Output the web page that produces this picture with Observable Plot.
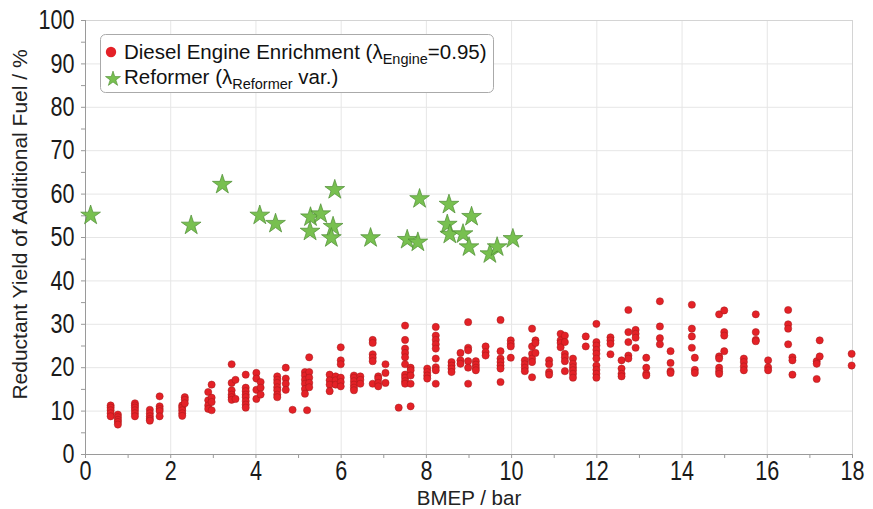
<!DOCTYPE html>
<html><head><meta charset="utf-8">
<script src="https://cdn.jsdelivr.net/npm/d3@7"></script>
<script src="https://cdn.jsdelivr.net/npm/@observablehq/plot@0.6"></script>
<style>body{margin:0;background:#fff} #chart{width:873px;height:509px}</style>
</head><body><div id="chart"></div>
<script>
// Diesel engine enrichment: BMEP columns and the yields measured at each
const dieselBmep = [0.59,0.76,1.16,1.51,1.74,2.27,2.33,2.88,2.96,3.43,3.52,3.76,4.01,4.11,4.50,4.70,4.86,5.15,5.25,5.20,5.73,5.87,5.99,6.30,6.45,6.74,6.87,7.04,7.35,7.50,7.63,8.02,8.22,8.59,8.80,8.98,9.16,9.39,9.74,9.98,10.31,10.48,10.56,10.88,11.15,11.25,11.44,11.74,11.99,12.32,12.58,12.74,12.91,13.16,13.48,13.73,14.23,14.30,14.87,14.99,15.45,15.73,16.02,16.49,16.59,17.16,17.23,17.98];
const dieselYields = [
  [11.3,10.8,10.2,9.5,8.8],[9.2,8.6,8.0,7.5,6.9],[11.8,11.3,10.8,10.2,9.5,8.8],[10.3,9.5,8.8,8.2,7.8],
  [13.4,11.1,10.5,10.0,8.8],[11.3,10.8,10.2,9.5,8.9],[13.2,12.6,11.8],[14.4,12.5,11.3,10.5],[16.1,13.1,12.1,10.2],
  [20.8,16.5,14.8,13.8,13.2,12.6],[17.2,12.8],[18.4,15.4,14.6,13.8,13.2,12.3,11.5,10.8],[18.8,17.5,14.9,12.8],
  [16.7,15.4,13.8],[18.0,17.2,16.5,15.5,14.8,13.8,13.2],[20.0,17.5,16.3,14.9],[10.3],
  [19.0,18.2,17.2,16.3,15.1,14.0],[22.4,19.0,17.7,16.5,15.5],[10.2],[18.4,17.1,16.1,14.6],[18.0,17.1,16.1],
  [24.7,21.7,20.8,17.7,16.7,15.7],[18.2,17.7,16.9,16.1,15.4,14.8],[18.0,17.2,16.3],[26.4,25.7,23.1,22.3,21.5,16.3],
  [18.0,17.5,16.5,15.7],[20.8,18.8,16.5],[10.8],[29.7,26.4,24.4,23.4,22.4,20.8,18.4,17.7,16.9,16.3],
  [20.0,19.4,18.2,16.3,11.1],[19.8,19.0,18.2,17.5],[29.4,27.4,26.4,25.4,24.4,22.1,20.1,19.4,16.3],
  [21.3,20.5,19.8,19.0],[23.4,21.7,20.9],[30.5,24.6,24.0,21.5,20.0,16.3],[21.5,20.7,20.0,19.4],[24.9,23.6,22.8],
  [31.0,23.8,22.1,21.3,20.5,19.8,16.7],[26.3,25.5,24.9,22.3],[21.7,20.8,20.0,19.2],[29.0,24.9,23.2,22.1,21.3,17.8],
  [26.3,25.7,23.4],[21.7,20.8,19.0,18.4],[27.8,26.3,25.7,24.7],[27.4,25.9,23.2,22.4,21.5,19.2],
  [22.1,20.9,20.1,19.4,18.6,17.7],[27.2,24.9],[30.1,25.9,25.1,24.1,23.2,22.1,20.5,19.5,18.6,17.7],
  [27.0,26.3,25.5,23.1],[21.7,19.8,18.6,18.0],[33.3,28.2,25.9,22.8,22.1],[28.7,27.8,26.9,24.6],
  [22.3,20.0,18.6,18.2],[35.3,29.5,26.8,25.4],[23.8,21.1,19.2,18.8],[34.5,29.0,27.2,24.6],[22.3,19.5,18.8],
  [32.3,22.6,22.1,20.0,19.2,18.6],[33.2,28.2,27.4,23.8],[22.1,21.3,20.3,19.4],[32.3,28.2,26.4,26.1],
  [21.7,20.1,19.4],[33.3,30.0,29.0,25.4],[22.4,21.7,18.4],[21.5,20.9,17.4],[26.3,22.6],[23.2,20.5]
];
// Reformer
const reformerBmep  = [0.12,2.48,3.21,4.09,4.46,5.28,5.52,5.27,5.85,5.81,5.77,6.69,7.55,7.80,7.84,8.53,8.49,8.55,8.86,9.06,9.00,9.49,9.66,10.03];
const reformerYield = [55.1,52.8,62.2,55.1,53.2,54.7,55.4,51.4,61.0,52.5,49.9,49.9,49.5,48.9,58.9,57.6,53.0,50.7,50.8,54.8,47.8,46.2,47.8,49.7];

const xTicks = [0,2,4,6,8,10,12,14,16,18];
const xMinorTicks = [1,3,5,7,9,11,13,15,17];
const yTicks = [0,10,20,30,40,50,60,70,80,90,100];
const yMinorTicks = [5,15,25,35,45,55,65,75,85,95];
const xTitle = "BMEP / bar";
const yTitle = "Reductant Yield of Additional Fuel / %";

const diesel = dieselBmep.flatMap((x, i) => dieselYields[i].map(y => ({x, y})));
const reformer = reformerBmep.map((x, i) => ({x, y: reformerYield[i]}));

const baseFont = "'Liberation Sans', Arial, sans-serif";
const axisColor = "#9a9a9a";

const chart = Plot.plot({
  width: 873, height: 509,
  marginLeft: 85, marginRight: 21, marginTop: 20, marginBottom: 55,
  style: {fontFamily: baseFont, background: "#fff", color: "#222"},
  x: {domain: [0, 18]},
  y: {domain: [0, 100]},
  marks: [
    Plot.gridX(xTicks, {stroke: "#e6e6e6", strokeOpacity: 1}),
    Plot.gridY(yTicks, {stroke: "#e6e6e6", strokeOpacity: 1}),
    Plot.frame({stroke: "#d4d4d4"}),
    Plot.ruleX([0], {stroke: axisColor}),
    Plot.ruleY([0], {stroke: axisColor}),
    Plot.axisX(xMinorTicks, {tickSize: 4, text: null, label: null, stroke: axisColor}),
    Plot.axisX(xTicks, {tickSize: 4, tickPadding: 2, label: null, stroke: axisColor, fontSize: 27, fill: "#1a1a1a", className: "tick-num"}),
    Plot.axisY(yMinorTicks, {tickSize: 4, text: null, label: null, stroke: axisColor}),
    Plot.axisY(yTicks, {tickSize: 4, tickPadding: 7, label: null, stroke: axisColor, fontSize: 27, fill: "#1a1a1a", className: "tick-num"}),
    Plot.text([xTitle], {frameAnchor: "bottom", dy: 50, lineAnchor: "bottom", fontSize: 20.5, fill: "#222"}),
    Plot.text([yTitle], {frameAnchor: "left", dx: -65, dy: -13, rotate: -90, textAnchor: "middle", fontSize: 21, fill: "#222"}),
    Plot.dot(diesel, {x: "x", y: "y", r: 3.6, fill: "#e42127", stroke: "#a31b1b", strokeWidth: 0.5}),
    Plot.dot(reformer, {x: "x", y: "y", symbol: "star", r: 6.2, fill: "#78c050", stroke: "#4e8c33", strokeWidth: 0.7})
  ]
});
document.getElementById("chart").append(chart);

// Condense the numeric tick labels horizontally (reference uses a narrow face)
d3.select(chart).selectAll("g.tick-num text").each(function () {
  const t = this.getAttribute("transform") || "";
  this.setAttribute("transform", t + " scale(0.8,1)");
});

// Legend box (inside plot area)
const svg = d3.select(chart);
const lg = svg.append("g").attr("font-family", baseFont).attr("fill", "#111").attr("text-anchor", "start");
lg.append("rect").attr("x", 100.5).attr("y", 34.5).attr("width", 393).attr("height", 58).attr("rx", 5)
  .attr("fill", "#fff").attr("stroke", "#aaa");
lg.append("circle").attr("cx", 111).attr("cy", 52).attr("r", 5.2).attr("fill", "#e42127");
lg.append("path").attr("d", d3.symbol(d3.symbolStar, 70)()).attr("transform", "translate(113,79)")
  .attr("fill", "#78c050").attr("stroke", "#4e8c33").attr("stroke-width", 0.6);
const t1 = lg.append("text").attr("x", 124).attr("y", 59).attr("font-size", 20.5);
t1.append("tspan").text("Diesel Engine Enrichment (λ");
t1.append("tspan").attr("font-size", 14.5).attr("dy", 5).text("Engine");
t1.append("tspan").attr("dy", -5).text("=0.95)");
const t2 = lg.append("text").attr("x", 124).attr("y", 84).attr("font-size", 20.5);
t2.append("tspan").text("Reformer (λ");
t2.append("tspan").attr("font-size", 14.5).attr("dy", 5).text("Reformer");
t2.append("tspan").attr("dy", -5).text(" var.)");
</script>
</body></html>
